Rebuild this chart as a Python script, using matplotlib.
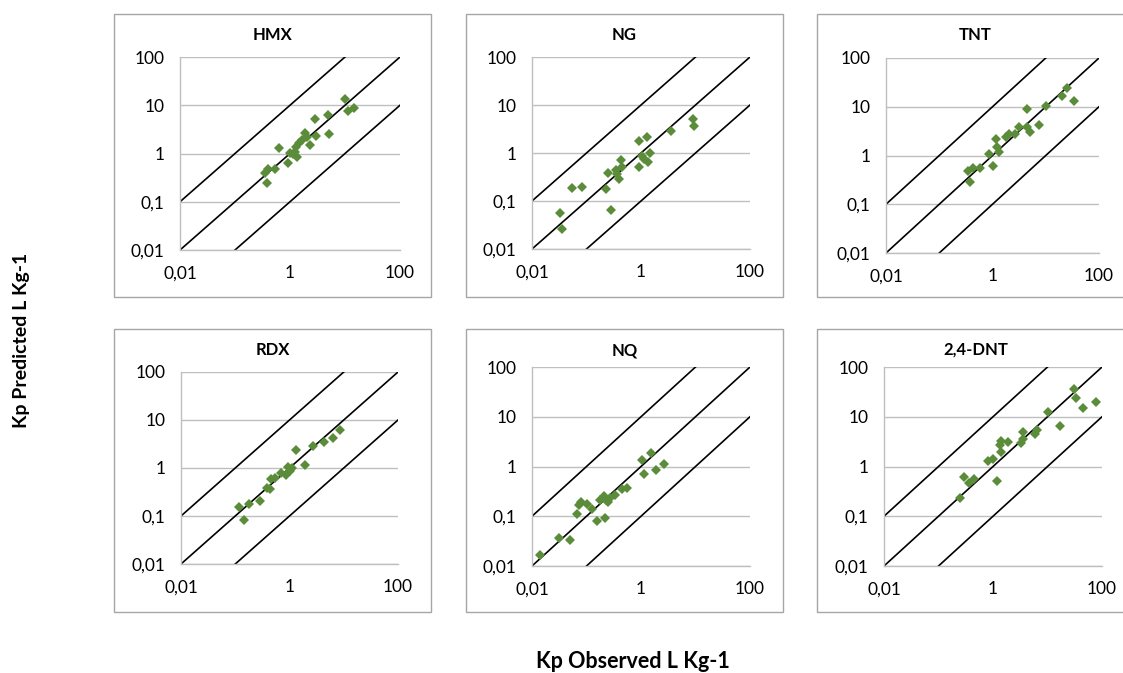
import matplotlib.pyplot as plt
from matplotlib.patches import Rectangle
import numpy as np

plt.rcParams['font.family'] = ['Lato', 'DejaVu Sans']

###================ Data ========================================###

panel_names = ["HMX", "NG", "TNT", "RDX", "NQ", "2,4-DNT"]

hmx_obs = [0.38, 0.35, 0.39, 0.54, 0.62, 0.93, 1.0, 1.12, 1.24, 1.36, 1.28, 1.48,
           1.64, 1.87, 2.05, 2.3, 3.0, 2.8, 5.0, 5.1, 10.0, 11.5, 14.7]
hmx_pred = [0.25, 0.39, 0.47, 0.47, 1.33, 0.64, 1.03, 1.0, 1.1, 0.85, 1.38, 1.66,
            1.9, 2.6, 2.2, 1.5, 2.3, 5.3, 6.2, 2.5, 13.7, 7.6, 8.9]

ng_obs = [0.032, 0.036, 0.054, 0.081, 0.23, 0.25, 0.28, 0.35, 0.36, 0.39, 0.43,
          0.44, 0.9, 0.9, 1.03, 1.15, 1.28, 1.35, 1.47, 3.57, 8.9, 9.5]
ng_pred = [0.055, 0.026, 0.19, 0.2, 0.18, 0.38, 0.066, 0.45, 0.37, 0.29, 0.70,
           0.5, 0.51, 1.8, 0.85, 0.75, 2.2, 0.64, 1.0, 2.86, 5.2, 3.6]

tnt_obs = [0.38, 0.35, 0.43, 0.58, 0.87, 1.03, 1.15, 1.23, 1.32, 1.78, 2.03,
           2.65, 3.2, 4.4, 4.4, 5.0, 7.5, 10.3, 20.6, 25.0, 34.0]
tnt_pred = [0.29, 0.48, 0.55, 0.56, 1.07, 0.61, 2.14, 1.47, 1.16, 2.43, 2.7,
            2.8, 3.8, 9.2, 3.9, 3.1, 4.3, 10.5, 16.6, 24.4, 13.2]

rdx_obs = [0.115, 0.145, 0.18, 0.28, 0.38, 0.43, 0.45, 0.54, 0.71, 0.88, 0.95,
           1.1, 1.04, 1.31, 1.9, 2.72, 4.3, 6.3, 8.4]
rdx_pred = [0.152, 0.082, 0.18, 0.21, 0.38, 0.36, 0.58, 0.63, 0.78, 0.72, 1.06,
            0.98, 0.87, 2.37, 1.16, 2.86, 3.5, 4.2, 6.3]

nq_obs = [0.0142, 0.0317, 0.05, 0.067, 0.074, 0.079, 0.1, 0.126, 0.155, 0.18,
          0.21, 0.22, 0.23, 0.25, 0.27, 0.33, 0.44, 0.55, 1.06, 1.14, 1.53, 1.9, 2.65]
nq_pred = [0.017, 0.036, 0.034, 0.11, 0.17, 0.19, 0.18, 0.14, 0.081, 0.21,
           0.25, 0.091, 0.21, 0.19, 0.23, 0.27, 0.36, 0.37, 1.34, 0.72, 1.88, 0.84, 1.1]

dnt_obs = [0.25, 0.29, 0.37, 0.44, 0.81, 0.98, 1.2, 1.33, 1.43, 1.43, 1.9, 3.2,
           3.5, 3.6, 5.9, 6.5, 10.0, 17.3, 31.0, 33.0, 45.0, 76.0]
dnt_pred = [0.23, 0.62, 0.47, 0.55, 1.28, 1.44, 0.52, 2.68, 3.3, 1.97, 3.1, 2.9,
            4.9, 3.6, 4.5, 5.5, 12.6, 6.5, 36.7, 24.0, 15.0, 19.8]

observed = [hmx_obs, ng_obs, tnt_obs, rdx_obs, nq_obs, dnt_obs]
predicted = [hmx_pred, ng_pred, tnt_pred, rdx_pred, nq_pred, dnt_pred]

y_ticks = [0.01, 0.1, 1, 10, 100]
y_tick_labels = ["0,01", "0,1", "1", "10", "100"]
x_ticks = [0.01, 1, 100]
x_tick_labels = ["0,01", "1", "100"]
ratio_lines = [10, 1, 0.1]

###================ Layout (pixels in a 1123x673 canvas) =================###

W, H = 1123, 673
# plot area: left, right, top, bottom
axes_px = [
    (180, 400, 57, 250),
    (532, 750, 57, 249),
    (886, 1099, 58, 253),
    (181, 398, 372, 564),
    (532, 750, 367, 566),
    (884, 1102, 367, 566),
]
# outer chart boxes: left, right, top, bottom
box_cols = [(114, 431), (466, 783), (817, 1134)]
box_rows = [(14, 297), (329, 612)]
title_y = [35, 350]

marker_color = "#5b8c3a"
grid_color = "#bfbfbf"
box_color = "#a6a6a6"


def px_axes(fig, left, right, top, bottom):
    return fig.add_axes([left / W, 1 - bottom / H, (right - left) / W, (bottom - top) / H])


def style_axes(ax):
    ax.set_xscale("log")
    ax.set_yscale("log")
    ax.set_xlim(0.01, 100)
    ax.set_ylim(0.01, 100)
    ax.set_xticks(x_ticks)
    ax.set_xticklabels(x_tick_labels)
    ax.set_yticks(y_ticks)
    ax.set_yticklabels(y_tick_labels)
    ax.minorticks_off()
    ax.tick_params(axis="both", length=0, labelsize=12.5, colors="#000000")
    ax.tick_params(axis="x", pad=11)
    ax.tick_params(axis="y", pad=11)
    ax.yaxis.grid(True, color=grid_color, linewidth=1)
    ax.xaxis.grid(False)
    for side in ["top", "right"]:
        ax.spines[side].set_visible(False)
    for side in ["left", "bottom"]:
        ax.spines[side].set_color(grid_color)
        ax.spines[side].set_linewidth(1)
    ax.set_axisbelow(True)


fig = plt.figure(figsize=(W / 100, H / 100), dpi=100)

# outer boxes around each small chart
for r_top, r_bot in box_rows:
    for c_left, c_right in box_cols:
        fig.patches.append(Rectangle(
            (c_left / W, 1 - r_bot / H), (c_right - c_left) / W, (r_bot - r_top) / H,
            transform=fig.transFigure, fill=False, edgecolor=box_color, linewidth=1,
        ))

line_x = np.array([0.001, 1000.0])
for i, (name, pos, obs, pred) in enumerate(zip(panel_names, axes_px, observed, predicted)):
    ax = px_axes(fig, *pos)
    style_axes(ax)
    for factor in ratio_lines:
        ax.plot(line_x, line_x * factor, color="black", linewidth=1.2)
    ax.plot(obs, pred, linestyle="none", marker="D", markersize=5.3,
            color=marker_color, markeredgewidth=0)
    # title centred on the chart box, like Excel does
    c_left, c_right = box_cols[i % 3]
    fig.text((c_left + c_right) / 2 / W, 1 - title_y[i // 3] / H, name,
             ha="center", va="center", fontsize=12, fontweight="bold")

fig.text(22 / W, 1 - 340 / H, "Kp Predicted L Kg-1", rotation=90,
         ha="center", va="center", fontsize=14, fontweight="bold")
fig.text(633 / W, 1 - 661 / H, "Kp Observed L Kg-1",
         ha="center", va="center", fontsize=15.5, fontweight="bold")

fig.savefig("out.png", dpi=100)
